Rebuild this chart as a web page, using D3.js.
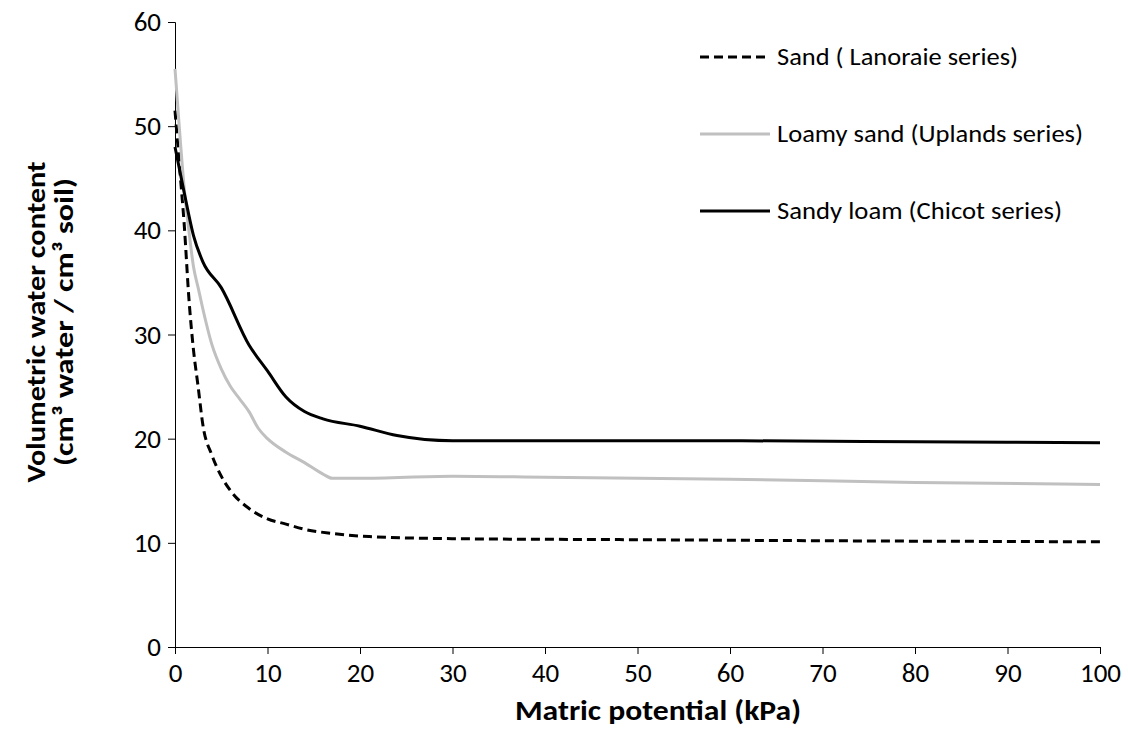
<!DOCTYPE html>
<html>
<head>
<meta charset="utf-8">
<script src="https://cdn.jsdelivr.net/npm/d3@7"></script>
<style>
  html, body { margin: 0; padding: 0; background: #fff; }
  svg text { font-family: Carlito, Calibri, Lato, "Open Sans", sans-serif; fill: #000; }
</style>
</head>
<body>
<svg id="chart" width="1128" height="751"></svg>
<script>
// Matric potential (kPa) vs volumetric water content (%) for three soils
const sandX  = [0, 0.5, 1, 1.5, 2, 2.5, 3, 4, 5, 6, 8, 10, 12, 14, 17, 21, 30, 50, 70, 100];
const sandY  = [51.5, 46, 40.5, 33.5, 28.5, 25, 21.4, 18.4, 16.4, 15, 13.3, 12.3, 11.8, 11.3, 10.9, 10.6, 10.4, 10.3, 10.2, 10.1];

const loamySandX = [0, 0.5, 1, 1.5, 2, 2.5, 3, 4, 5, 6, 7, 8, 9, 10, 12, 14, 16, 17, 20, 30, 40, 60, 80, 100];
const loamySandY = [55.5, 49.5, 44, 40, 36.5, 34.5, 32.5, 29, 26.7, 25, 23.8, 22.6, 21, 20, 18.7, 17.7, 16.6, 16.2, 16.2, 16.4, 16.3, 16.1, 15.8, 15.6];

const sandyLoamX = [0, 1, 2, 3, 5, 8, 10, 12, 14, 16, 20, 24, 30, 40, 60, 80, 100];
const sandyLoamY = [48, 43.6, 39.5, 37, 34.5, 29, 26.5, 24, 22.6, 21.9, 21.2, 20.3, 19.8, 19.8, 19.8, 19.7, 19.6];

const seriesNames = ["Sand ( Lanoraie series)", "Loamy sand (Uplands series)", "Sandy loam (Chicot series)"];
const xTicks = [0, 10, 20, 30, 40, 50, 60, 70, 80, 90, 100];
const yTicks = [0, 10, 20, 30, 40, 50, 60];

const svg = d3.select("#chart");
const margin = { left: 175, right: 28, top: 22, bottom: 104 };
const W = 1128, H = 751;

const x = d3.scaleLinear().domain([0, 100]).range([margin.left, W - margin.right]);
const y = d3.scaleLinear().domain([0, 60]).range([H - margin.bottom, margin.top]);

// axes
const xAxis = svg.append("g")
  .attr("transform", `translate(0,${y(0)})`)
  .call(d3.axisBottom(x).tickValues(xTicks).tickSize(7).tickPadding(9));
const yAxis = svg.append("g")
  .attr("transform", `translate(${x(0)},0)`)
  .call(d3.axisLeft(y).tickValues(yTicks).tickSize(7).tickPadding(7));
[xAxis, yAxis].forEach(g => {
  g.selectAll("path, line").attr("stroke", "#000").attr("stroke-width", 1);
  g.selectAll("text").attr("font-size", 27)
    .attr("font-family", "Carlito, Calibri, Lato, sans-serif").attr("fill", "#000");
});

// curves
const line = d3.line()
  .x(d => x(d[0])).y(d => y(d[1]))
  .curve(d3.curveMonotoneX);

const series = [
  { name: seriesNames[0], pts: d3.zip(sandX, sandY), color: "#000", dash: "9,5" },
  { name: seriesNames[1], pts: d3.zip(loamySandX, loamySandY), color: "#c0c0c0", dash: null },
  { name: seriesNames[2], pts: d3.zip(sandyLoamX, sandyLoamY), color: "#000", dash: null }
];

series.forEach(s => {
  svg.append("path")
    .datum(s.pts)
    .attr("d", line)
    .attr("fill", "none")
    .attr("stroke", s.color)
    .attr("stroke-width", 3)
    .attr("stroke-dasharray", s.dash);
});

// legend
const legendRowY = [57, 134, 211];
const legendTextW = [241, 306, 285];
series.forEach((s, i) => {
  const g = svg.append("g").attr("transform", `translate(700,${legendRowY[i]})`);
  g.append("line")
    .attr("x1", 0).attr("x2", 70).attr("y1", 0).attr("y2", 0)
    .attr("stroke", s.color).attr("stroke-width", 3)
    .attr("stroke-dasharray", s.dash);
  g.append("text")
    .attr("x", 77).attr("y", 0).attr("dy", "0.35em")
    .attr("font-size", 24)
    .attr("textLength", legendTextW[i]).attr("lengthAdjust", "spacingAndGlyphs")
    .text(s.name);
});

// axis titles
svg.append("text")
  .attr("x", 658).attr("y", 720)
  .attr("text-anchor", "middle")
  .attr("font-family", "Arial, 'Liberation Sans', sans-serif")
  .attr("font-weight", "bold").attr("font-size", 28)
  .attr("textLength", 286).attr("lengthAdjust", "spacingAndGlyphs")
  .text("Matric potential (kPa)");

const yTitle = svg.append("text")
  .attr("transform", "translate(0,322) rotate(-90)")
  .attr("text-anchor", "middle")
  .attr("font-weight", "bold").attr("font-size", 26);
yTitle.append("tspan").attr("x", 0).attr("y", 45)
  .attr("textLength", 321).attr("lengthAdjust", "spacingAndGlyphs")
  .text("Volumetric water content");
yTitle.append("tspan").attr("x", 0).attr("y", 73)
  .attr("textLength", 288).attr("lengthAdjust", "spacingAndGlyphs")
  .text("(cm³ water / cm³ soil)");
</script>
</body>
</html>
